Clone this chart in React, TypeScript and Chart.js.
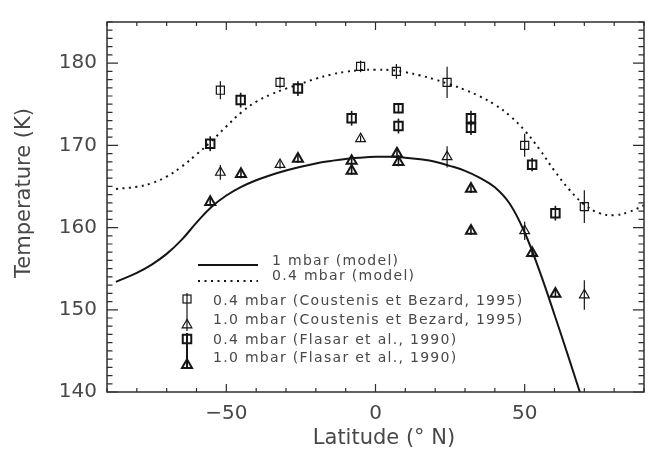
import React, { useEffect, useRef } from 'react';
import { Chart, registerables } from 'chart.js';

Chart.register(...registerables);

// ---- model curves ----
const modelLat = [-87, -80, -75, -70, -65, -60, -55, -50, -45, -40, -35, -30, -25, -20, -15, -10, -5, 0, 5, 10, 15, 20, 25, 30, 35, 40, 45, 50, 55, 60, 65, 70, 75, 80, 85, 90];
const model1mbar = [153.4, 154.5, 155.5, 156.8, 158.5, 160.6, 162.5, 163.9, 164.95, 165.75, 166.4, 166.95, 167.4, 167.8, 168.1, 168.35, 168.5, 168.6, 168.6, 168.5, 168.3, 168.0, 167.5, 166.9, 166.05, 164.9, 162.9, 159.4, 154.7, 149.4, 143.9, 138.3, null, null, null, null];
const model04mbar = [164.7, 164.95, 165.4, 166.2, 167.4, 168.9, 170.5, 172.3, 174.0, 175.3, 176.2, 176.9, 177.5, 178.1, 178.6, 178.95, 179.15, 179.2, 179.15, 178.9, 178.5, 178.0, 177.4, 176.75, 175.95, 174.95, 173.6, 171.8, 169.5, 166.9, 164.6, 162.8, 161.75, 161.5, 161.9, 162.7];

// ---- Coustenis et Bezard 1995 ----
const coustenis04Lat = [-52, -32, -5, 7, 24, 50, 70];
const coustenis04Temp = [176.7, 177.65, 179.6, 179.0, 177.65, 170.0, 162.55];
const coustenis04Err = [1.1, 0.7, 0.7, 0.9, 1.9, 1.4, 2.0];

const coustenis10Lat = [-52, -32, -5, 24, 50, 70];
const coustenis10Temp = [166.7, 167.65, 170.8, 168.6, 159.6, 151.8];
const coustenis10Err = [0.9, 0.5, 0.4, 1.3, 1.1, 1.8];

// ---- Flasar et al. 1990 ----
const flasar04Lat = [-55.4, -45.2, -26, -8, 7.7, 7.7, 32, 32, 52.5, 60.3];
const flasar04Temp = [170.2, 175.5, 176.9, 173.3, 174.5, 172.35, 173.3, 172.15, 167.65, 161.75];
const flasar04Err = [0.9, 0.9, 0.9, 0.9, 0.6, 0.9, 0.9, 0.9, 0.8, 0.9];

const flasar10Lat = [-55.4, -45.1, -26, -8, -8, 7.2, 7.7, 32, 32, 52.5, 60.3];
const flasar10Temp = [163.1, 166.5, 168.35, 168.1, 166.9, 169.0, 167.95, 164.7, 159.6, 156.9, 151.95];
const flasar10Err = [0.5, 0.5, 0.5, 0.5, 0.5, 0.5, 0.5, 0.5, 0.5, 0.5, 0.5];

const xTickValues = [-50, 0, 50];
const yTickValues = [140, 150, 160, 170, 180];
const xTitle = 'Latitude (° N)';
const yTitle = 'Temperature (K)';
const legendModel = ['1 mbar (model)', '0.4 mbar (model)'];
const legendObs = [
  '0.4 mbar (Coustenis et Bezard, 1995)',
  '1.0 mbar (Coustenis et Bezard, 1995)',
  '0.4 mbar (Flasar et al., 1990)',
  '1.0 mbar (Flasar et al., 1990)',
];

const INK = '#151515';
const AXIS = '#2e2e2e';
const TEXT = '#484848';
const FONT = 'DejaVu Sans';

const pts = (xs: number[], ys: (number | null)[]) => xs.map((x, i) => ({ x, y: ys[i] }));

function strokeTriangle(ctx: CanvasRenderingContext2D, x: number, y: number, r: number) {
  ctx.beginPath();
  ctx.moveTo(x, y - r);
  ctx.lineTo(x + 0.866 * r, y + 0.5 * r);
  ctx.lineTo(x - 0.866 * r, y + 0.5 * r);
  ctx.closePath();
  ctx.stroke();
}

const errorBarPlugin = {
  id: 'errorBars',
  afterDatasetsDraw(chart: any) {
    const ctx = chart.ctx;
    const xs = chart.scales.x;
    const ys = chart.scales.y;
    ctx.save();
    ctx.beginPath();
    ctx.rect(chart.chartArea.left, chart.chartArea.top, chart.chartArea.width, chart.chartArea.height);
    ctx.clip();
    chart.data.datasets.forEach((ds: any) => {
      if (!ds.errors) return;
      ctx.strokeStyle = INK;
      ctx.lineWidth = ds.errWidth;
      ds.data.forEach((p: any, i: number) => {
        const px = xs.getPixelForValue(p.x);
        ctx.beginPath();
        ctx.moveTo(px, ys.getPixelForValue(p.y - ds.errors[i]));
        ctx.lineTo(px, ys.getPixelForValue(p.y + ds.errors[i]));
        ctx.stroke();
      });
    });
    ctx.restore();
  },
};

const framePlugin = {
  id: 'frame',
  afterDraw(chart: any) {
    const ctx = chart.ctx;
    const { left, right, top, bottom } = chart.chartArea;
    const xs = chart.scales.x;
    const ys = chart.scales.y;
    ctx.save();
    ctx.strokeStyle = AXIS;
    ctx.lineWidth = 1.5;
    ctx.strokeRect(left, top, right - left, bottom - top);
    ctx.lineWidth = 1.2;
    ctx.beginPath();
    for (let v = -90; v <= 90; v += 10) {
      const px = xs.getPixelForValue(v);
      const len = v % 50 === 0 ? 8 : 4;
      ctx.moveTo(px, bottom); ctx.lineTo(px, bottom - len);
      ctx.moveTo(px, top); ctx.lineTo(px, top + len);
    }
    for (let v = 140; v <= 185; v += 1) {
      const py = ys.getPixelForValue(v);
      const len = v % 10 === 0 ? 11 : 5.5;
      ctx.moveTo(left, py); ctx.lineTo(left + len, py);
      ctx.moveTo(right, py); ctx.lineTo(right - len, py);
    }
    ctx.stroke();
    // axis titles
    ctx.fillStyle = TEXT;
    ctx.font = `21px "${FONT}"`;
    ctx.textAlign = 'center';
    ctx.textBaseline = 'middle';
    ctx.fillText(xTitle, 384, 439);
    ctx.translate(25, 193);
    ctx.rotate(-Math.PI / 2);
    ctx.fillText(yTitle, 0, 0);
    ctx.restore();
  },
};

const legendPlugin = {
  id: 'customLegend',
  afterDraw(chart: any) {
    const ctx = chart.ctx;
    ctx.save();
    ctx.fillStyle = TEXT;
    ctx.strokeStyle = INK;
    ctx.font = `14px "${FONT}"`;
    (ctx as any).letterSpacing = '1.3px';
    ctx.textAlign = 'left';
    ctx.textBaseline = 'alphabetic';
    // model lines
    ctx.lineWidth = 2;
    ctx.beginPath(); ctx.moveTo(198, 265); ctx.lineTo(258, 265); ctx.stroke();
    ctx.setLineDash([2, 4.5]);
    ctx.beginPath(); ctx.moveTo(198, 281); ctx.lineTo(258, 281); ctx.stroke();
    ctx.setLineDash([]);
    ctx.fillText(legendModel[0], 272, 265);
    ctx.fillText(legendModel[1], 272, 280);
    // observation symbols
    const rows = [305, 323.5, 344, 362];
    legendObs.forEach((t, i) => ctx.fillText(t, 213, rows[i]));
    const sx = 187;
    // Coustenis
    ctx.lineWidth = 1.2;
    ctx.strokeRect(sx - 4, 299 - 4, 8, 8);
    strokeTriangle(ctx, sx, 325, 5.6);
    ctx.beginPath(); ctx.moveTo(sx, 293); ctx.lineTo(sx, 331); ctx.stroke();
    // Flasar
    ctx.lineWidth = 2;
    ctx.strokeRect(sx - 4.25, 339 - 4.25, 8.5, 8.5);
    strokeTriangle(ctx, sx, 365, 5.8);
    ctx.beginPath(); ctx.moveTo(sx, 333); ctx.lineTo(sx, 368); ctx.stroke();
    ctx.restore();
  },
};

export default function App() {
  const ref = useRef<HTMLCanvasElement>(null);
  useEffect(() => {
    const chart = new Chart(ref.current as HTMLCanvasElement, {
      type: 'scatter',
      data: {
        datasets: [
          {
            label: legendModel[0],
            data: pts(modelLat, model1mbar),
            showLine: true,
            borderColor: INK,
            borderWidth: 2,
            pointRadius: 0,
            tension: 0.4,
            spanGaps: false,
          } as any,
          {
            label: legendModel[1],
            data: pts(modelLat, model04mbar),
            showLine: true,
            borderColor: INK,
            borderWidth: 2,
            borderDash: [2, 4.5],
            pointRadius: 0,
            tension: 0.4,
          } as any,
          {
            label: legendObs[0],
            data: pts(coustenis04Lat, coustenis04Temp),
            pointStyle: 'rect',
            pointRadius: 5.7,
            borderWidth: 1.2,
            borderColor: INK,
            backgroundColor: 'rgba(0,0,0,0)',
            errors: coustenis04Err,
            errWidth: 1.2,
          } as any,
          {
            label: legendObs[1],
            data: pts(coustenis10Lat, coustenis10Temp),
            pointStyle: 'triangle',
            pointRadius: 5.6,
            borderWidth: 1.2,
            borderColor: INK,
            backgroundColor: 'rgba(0,0,0,0)',
            errors: coustenis10Err,
            errWidth: 1.2,
          } as any,
          {
            label: legendObs[2],
            data: pts(flasar04Lat, flasar04Temp),
            pointStyle: 'rect',
            pointRadius: 6,
            borderWidth: 2,
            borderColor: INK,
            backgroundColor: 'rgba(0,0,0,0)',
            errors: flasar04Err,
            errWidth: 1.6,
          } as any,
          {
            label: legendObs[3],
            data: pts(flasar10Lat, flasar10Temp),
            pointStyle: 'triangle',
            pointRadius: 5.8,
            borderWidth: 2,
            borderColor: INK,
            backgroundColor: 'rgba(0,0,0,0)',
            errors: flasar10Err,
            errWidth: 1.6,
          } as any,
        ],
      },
      options: {
        responsive: false,
        animation: false,
        layout: { padding: { left: 0, right: 6, top: 9, bottom: 0 } },
        plugins: { legend: { display: false }, tooltip: { enabled: false } },
        scales: {
          x: {
            type: 'linear',
            min: -90,
            max: 90,
            afterBuildTicks: (s: any) => { s.ticks = xTickValues.map((v) => ({ value: v })); },
            afterFit: (s: any) => { s.height = 60; },
            grid: { display: false, drawTicks: false },
            border: { display: false },
            ticks: {
              autoSkip: false,
              maxRotation: 0,
              padding: 10,
              color: TEXT,
              font: { family: FONT, size: 20 },
              callback: (v: any) => (Number(v) < 0 ? '\u2212' + Math.abs(Number(v)) : String(v)),
            },
            title: { display: false, text: xTitle },
          },
          y: {
            type: 'linear',
            min: 140,
            max: 185,
            afterBuildTicks: (s: any) => { s.ticks = yTickValues.map((v) => ({ value: v })); },
            afterFit: (s: any) => { s.width = 107; },
            grid: { display: false, drawTicks: false },
            border: { display: false },
            ticks: {
              autoSkip: false,
              padding: 10,
              color: TEXT,
              font: { family: FONT, size: 20 },
            },
            title: { display: false, text: yTitle },
          },
        },
      } as any,
      plugins: [errorBarPlugin, framePlugin, legendPlugin],
    });
    return () => chart.destroy();
  }, []);
  return (
    <div style={{ position: 'fixed', left: 0, top: 0, width: 652, height: 452 }}>
      <canvas ref={ref} width={652} height={452} style={{ display: 'block' }} />
    </div>
  );
}
